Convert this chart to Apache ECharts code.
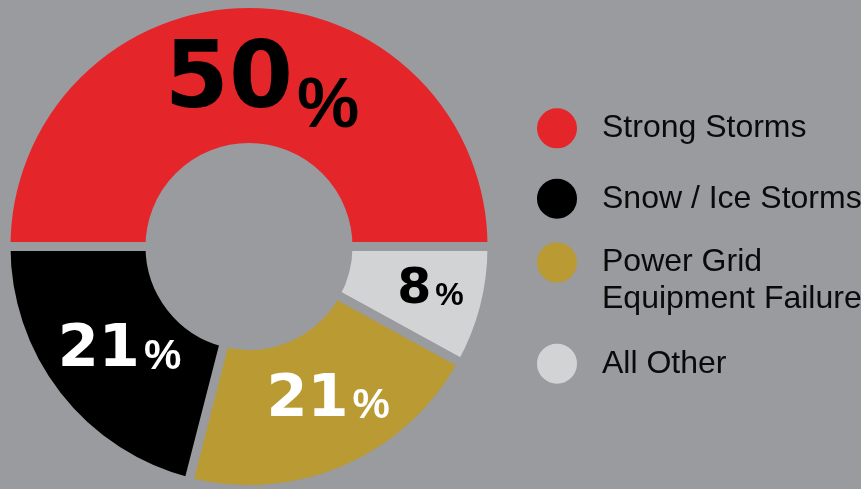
<!DOCTYPE html>
<html>
<head>
<meta charset="utf-8">
<script src="https://cdn.jsdelivr.net/npm/echarts@6/dist/echarts.min.js"></script>
<style>
html,body{margin:0;padding:0;background:#9a9b9f;}
#main{width:861px;height:489px;}
</style>
</head>
<body>
<div id="main"></div>
<script>
// Data
const sliceNames = ['Strong Storms', 'All Other', 'Power Grid Equipment Failure', 'Snow / Ice Storms'];
const sliceValues = [50, 8, 21, 21];
const legendOrder = ['Strong Storms', 'Snow / Ice Storms', 'Power Grid Equipment Failure', 'All Other'];
const legendLines = [['Strong Storms'], ['Snow / Ice Storms'], ['Power Grid', 'Equipment Failure'], ['All Other']];

// Styles
const BG = '#9a9b9f';
const sliceColors = ['#e4262a', '#d1d3d4', '#b99a33', '#000000'];
const labelStyles = [
  {color: '#000', num: 92, pct: 70, drop: 17, dx: 13, dy: 28},
  {color: '#000', num: 49, pct: 32, drop: 0, dx: 13, dy: 0},
  {color: '#fff', num: 59, pct: 42, drop: 0, dx: 10, dy: -6},
  {color: '#fff', num: 59, pct: 42, drop: 0, dx: 8, dy: -2}
];
const legendTops = [106.3, 176.7, 220.5, 341.7];

const chart = echarts.init(document.getElementById('main'));

const data = sliceNames.map((name, i) => {
  const s = labelStyles[i];
  return {
    name: name,
    value: sliceValues[i],
    itemStyle: {color: sliceColors[i]},
    label: {
      rich: {
        n: {fontFamily: 'DejaVu Sans', fontWeight: 'bold', fontSize: s.num, color: s.color,
            lineHeight: s.num, verticalAlign: 'bottom', padding: [0, 0, s.drop, 0]},
        p: {fontFamily: 'Liberation Sans', fontWeight: 'bold', fontSize: s.pct, color: s.color,
            lineHeight: s.pct, verticalAlign: 'bottom', padding: [0, 0, Math.round(s.num * 0.04), 4]}
      }
    }
  };
});

const legends = legendOrder.map((name, i) => {
  const lines = legendLines[i];
  const multi = lines.length > 1;
  const text = (multi ? '{e| }\n' : '') + lines.map(l => '{a|' + l + '}').join('\n');
  return {
    data: [name],
    left: 535,
    top: legendTops[i],
    padding: 0,
    icon: 'circle',
    itemWidth: 42,
    itemHeight: 42,
    selectedMode: false,
    formatter: () => text,
    textStyle: {
      rich: {
        a: {fontFamily: 'Liberation Sans', fontSize: 32, color: '#0a0a0a', lineHeight: 37, padding: [0, 0, 0, 19]},
        e: {fontSize: 10, lineHeight: 37}
      }
    }
  };
});

chart.setOption({
  backgroundColor: BG,
  animation: false,
  legend: legends,
  series: [{
    type: 'pie',
    center: [249, 246.5],
    radius: [99, 243],
    startAngle: 180,
    clockwise: true,
    avoidLabelOverlap: false,
    itemStyle: {borderColor: BG, borderWidth: 9},
    label: {
      show: true,
      position: 'inside',
      formatter: '{n|{c}}{p|%}'
    },
    labelLine: {show: false},
    labelLayout: function (params) {
      const s = labelStyles[params.dataIndex];
      return {dx: s.dx, dy: s.dy};
    },
    emphasis: {disabled: true},
    data: data
  }]
});
</script>
</body>
</html>
